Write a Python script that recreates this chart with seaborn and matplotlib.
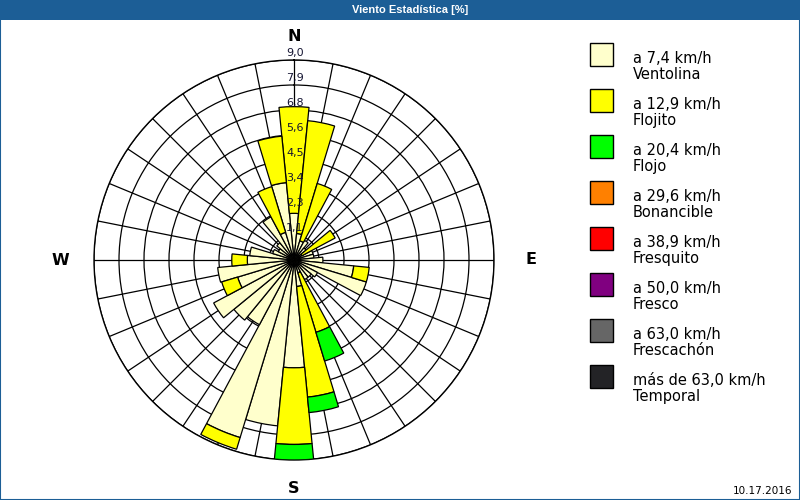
import numpy as np
import pandas as pd
import matplotlib
matplotlib.use("Agg")
import matplotlib.pyplot as plt
import matplotlib.transforms as mtransforms
from matplotlib.patches import Rectangle
import seaborn as sns

sns.set_theme(style="white")
plt.rcParams['font.family'] = ['DejaVu Sans']

# ---------------- data ----------------
directions = ["N", "NxE", "NNE", "NExN", "NE", "NExE", "ENE", "ExN",
              "E", "ExS", "ESE", "SExE", "SE", "SExS", "SSE", "SxE",
              "S", "SxW", "SSW", "SWxS", "SW", "SWxW", "WSW", "WxS",
              "W", "WxN", "WNW", "NWxW", "NW", "NWxN", "NNW", "NxW"]
ventolina = [2.1, 1.2, 0.9, 1.0, 0.7, 0.4, 0.9, 0.9,
             1.3, 2.7, 3.4, 1.2, 1.0, 1.0, 0.6, 1.2,
             4.85, 7.5, 8.35, 3.3, 3.5, 4.1, 2.65, 3.45,
             2.1, 2.0, 1.0, 0.8, 1.0, 2.2, 1.3, 3.5]
flojito = [4.8, 5.1, 2.7, 0.0, 0.0, 1.7, 0.0, 0.0,
           0.0, 0.7, 0.0, 0.0, 0.0, 0.0, 2.8, 5.0,
           3.45, 0.0, 0.55, 0.0, 0.0, 0.0, 0.75, 0.0,
           0.7, 0.0, 0.0, 0.0, 0.0, 0.0, 2.15, 2.1]
flojo = [0.0, 0.0, 0.0, 0.0, 0.0, 0.0, 0.0, 0.0,
         0.0, 0.0, 0.0, 0.0, 0.0, 0.0, 1.35, 0.7,
         0.7, 0.0, 0.0, 0.0, 0.0, 0.0, 0.0, 0.0,
         0.0, 0.0, 0.0, 0.0, 0.0, 0.0, 0.0, 0.0]

speed_limits = ["a 7,4 km/h", "a 12,9 km/h", "a 20,4 km/h", "a 29,6 km/h",
                "a 38,9 km/h", "a 50,0 km/h", "a 63,0 km/h", "más de 63,0 km/h"]
speed_names = ["Ventolina", "Flojito", "Flojo", "Bonancible",
               "Fresquito", "Fresco", "Frescachón", "Temporal"]
speed_colors = ["#FFFFCC", "#FFFF00", "#00FF00", "#FF8000",
                "#FF0000", "#800080", "#666666", "#232326"]

ring_values = [1.125, 2.25, 3.375, 4.5, 5.625, 6.75, 7.875, 9.0]
ring_labels = ["1,1", "2,3", "3,4", "4,5", "5,6", "6,8", "7,9", "9,0"]
compass = ["N", "E", "S", "W"]
compass_deg = [0, 90, 180, 270]

title = "Viento Estadística [%]"
date_text = "10.17.2016"

# ---------------- figure ----------------
W, H = 800, 500
fig = plt.figure(figsize=(8, 5), dpi=100, facecolor="white")

def fx(px):
    return px / W

def fy(py):
    return 1 - py / H

ax = fig.add_axes([fx(94), fy(460), 400 / W, 400 / H], projection="polar")
ax.set_facecolor("white")
ax.set_theta_zero_location("N")
ax.set_theta_direction(-1)

n = len(directions)
theta = np.arange(n) * 2 * np.pi / n
width = 2 * np.pi / n

df = pd.DataFrame({"dir": directions, "theta": theta,
                   "Ventolina": ventolina, "Flojito": flojito, "Flojo": flojo})

bottom = np.zeros(n)
for name, color in zip(["Ventolina", "Flojito", "Flojo"], speed_colors[:3]):
    vals = df[name].to_numpy()
    mask = vals > 0
    ax.bar(df["theta"][mask], vals[mask], width=width, bottom=bottom[mask],
           color=color, edgecolor="black", linewidth=0.9, zorder=3)
    bottom = bottom + vals

ax.set_ylim(0, 9.0)
ax.set_xticks(theta)
ax.set_xticklabels([])
ax.set_yticks(ring_values)
ax.set_yticklabels([])
ax.tick_params(length=0)
ax.grid(True, color="black", linewidth=0.9)
ax.set_axisbelow(True)
ax.spines["polar"].set_color("black")
ax.spines["polar"].set_linewidth(1.0)

# ring labels along the north spoke
off = mtransforms.offset_copy(ax.transData, fig=fig, x=1, y=2, units="dots")
for rv, rl in zip(ring_values, ring_labels):
    ax.text(0, rv, rl, transform=off, ha="center", va="bottom",
            fontsize=8, color="#141432", zorder=6)

# compass labels
for lab, deg, rr in zip(compass, compass_deg, [10.05, 10.65, 10.3, 10.5]):
    ax.text(np.deg2rad(deg), rr, lab, ha="center", va="center",
            fontsize=11.5, fontweight="bold", color="black")

# ---------------- legend (manual) ----------------
for i, (lim, nm, col) in enumerate(zip(speed_limits, speed_names, speed_colors)):
    top = 43 + 46 * i
    fig.add_artist(Rectangle((fx(590), fy(top + 23)), 23 / W, 23 / H,
                             transform=fig.transFigure, facecolor=col,
                             edgecolor="black", linewidth=1.0))
    fig.text(fx(633), fy(top + 8), lim + "\n" + nm, ha="left", va="top",
             fontsize=10.5, linespacing=1.05, color="black")

# ---------------- title bar, frame, date ----------------
fig.add_artist(Rectangle((0, fy(20)), 1, 20 / H, transform=fig.transFigure,
                         facecolor="#1c5e96", edgecolor="none"))
fig.text(fx(410), fy(10), title, ha="center", va="center", color="white",
         fontsize=8, fontweight="bold", family=["Liberation Sans", "DejaVu Sans"])
fig.add_artist(Rectangle((0, 0), 1, 1, transform=fig.transFigure, fill=False,
                         edgecolor="#1c5e96", linewidth=1.5))
fig.text(fx(792), fy(491), date_text, ha="right", va="center", fontsize=7.5,
         color="black")

fig.savefig("out.png", dpi=100, facecolor="white")
